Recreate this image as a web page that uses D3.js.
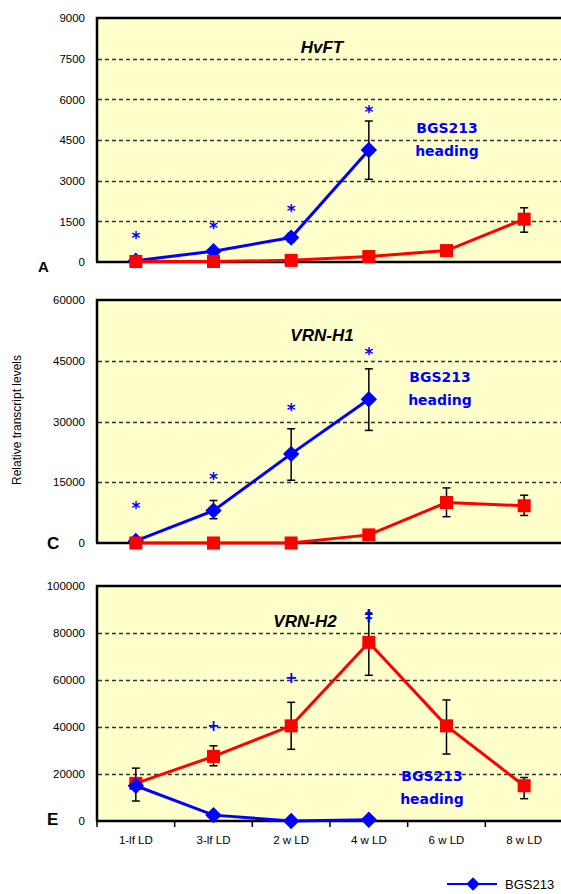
<!DOCTYPE html>
<html>
<head>
  <meta charset="utf-8">
  <title>Transcript levels</title>
  <script src="https://cdnjs.cloudflare.com/ajax/libs/d3/7.8.5/d3.min.js"></script>
  <style>
    body { margin: 0; background: #fff; overflow: hidden; }
    text { font-family: "Liberation Sans", Arial, sans-serif; }
  </style>
</head>
<body>
<script>
var w = 561, h = 894;

var categories = ["1-lf LD", "3-lf LD", "2 w LD", "4 w LD", "6 w LD", "8 w LD"];

// HvFT (panel A)
var hvftTicks = [0, 1500, 3000, 4500, 6000, 7500, 9000];
var hvftBlue = [50, 400, 900, 4130];
var hvftBlueErr = [null, null, [750, 1050], [3050, 5200]];
var hvftRed = [20, 20, 60, 200, 420, 1580];
var hvftRedErr = [null, null, null, null, null, [1100, 2000]];
var hvftMarks = [1000, 1350, 2000, 5650];

// VRN-H1 (panel C)
var vrn1Ticks = [0, 15000, 30000, 45000, 60000];
var vrn1Blue = [500, 8000, 22000, 35500];
var vrn1BlueErr = [null, [6000, 10500], [15500, 28200], [27800, 43000]];
var vrn1Red = [0, 0, 0, 2000, 10000, 9200];
var vrn1RedErr = [null, null, null, null, [6500, 13600], [6800, 11800]];
var vrn1Marks = [9500, 16500, 33500, 47500];

// VRN-H2 (panel E)
var vrn2Ticks = [0, 20000, 40000, 60000, 80000, 100000];
var vrn2Blue = [15000, 2500, 0, 500];
var vrn2BlueErr = [null, null, null, null];
var vrn2Red = [16000, 27500, 40500, 76000, 40500, 15000];
var vrn2RedErr = [[8500, 22500], [23500, 32000], [30500, 50500], [62000, 88000], [28500, 51500], [9500, 18500]];
var vrn2Marks = [null, 40800, 61200, 87500];

var panels = [
  {gene: "HvFT", letter: "A", top: 18, bottom: 262, max: 9000, ticks: hvftTicks,
   blue: hvftBlue, blueErr: hvftBlueErr, red: hvftRed, redErr: hvftRedErr,
   marks: hvftMarks, mark: "*", titleX: 322, titleY: 53, headX: 447, headY: 133, letterX: 38, letterY: 272, letterSize: 15},
  {gene: "VRN-H1", letter: "C", top: 300, bottom: 543, max: 60000, ticks: vrn1Ticks,
   blue: vrn1Blue, blueErr: vrn1BlueErr, red: vrn1Red, redErr: vrn1RedErr,
   marks: vrn1Marks, mark: "*", titleX: 322, titleY: 341, headX: 440, headY: 382, letterX: 47, letterY: 549, letterSize: 17},
  {gene: "VRN-H2", letter: "E", top: 586, bottom: 821, max: 100000, ticks: vrn2Ticks,
   blue: vrn2Blue, blueErr: vrn2BlueErr, red: vrn2Red, redErr: vrn2RedErr,
   marks: vrn2Marks, mark: "+", titleX: 305, titleY: 627, headX: 432, headY: 781, letterX: 47, letterY: 825, letterSize: 17, xaxis: true}
];

var svg = d3.select("body").append("svg")
  .attr("width", w).attr("height", h);

var x = d3.scaleBand().domain(categories).range([97, 563]).padding(0);

panels.forEach(function (p) {
  var y = d3.scaleLinear().domain([0, p.max]).range([p.bottom, p.top]);
  var g = svg.append("g");

  g.append("rect")
    .attr("x", 97).attr("y", p.top)
    .attr("width", 466).attr("height", p.bottom - p.top)
    .attr("fill", "#ffffcc");

  // dashed grid
  g.selectAll(".grid").data(p.ticks.slice(1, -1)).enter().append("line")
    .attr("x1", 98).attr("x2", 563)
    .attr("y1", function (d) { return Math.round(y(d)) + 0.5; })
    .attr("y2", function (d) { return Math.round(y(d)) + 0.5; })
    .attr("stroke", "#333").attr("stroke-width", 1.6)
    .attr("stroke-dasharray", "4,3");

  // frame
  g.append("path")
    .attr("d", "M97," + p.bottom + "V" + p.top + "H563")
    .attr("fill", "none").attr("stroke", "#000").attr("stroke-width", 2.5);
  g.append("line")
    .attr("x1", 96).attr("x2", 563).attr("y1", p.bottom).attr("y2", p.bottom)
    .attr("stroke", "#000").attr("stroke-width", 2.5);

  var yAxis = d3.axisLeft(y).tickValues(p.ticks).tickSize(0).tickPadding(12)
    .tickFormat(d3.format("d"));
  var ya = g.append("g").attr("transform", "translate(97,0)").call(yAxis);
  ya.select(".domain").remove();
  ya.selectAll("text").attr("font-size", 11.5).attr("fill", "#000")
    .style("font-family", "'Liberation Sans', Arial, sans-serif");

  if (p.xaxis) {
    var xAxis = d3.axisBottom(x).tickSize(0).tickPadding(15);
    var xa = g.append("g").attr("transform", "translate(0," + p.bottom + ")").call(xAxis);
    xa.select(".domain").remove();
    xa.selectAll("text").attr("font-size", 11.5).attr("fill", "#000")
      .style("font-family", "'Liberation Sans', Arial, sans-serif");
    g.selectAll(".xt").data(categories).enter().append("line")
      .attr("x1", function (d) { return x(d); }).attr("x2", function (d) { return x(d); })
      .attr("y1", p.bottom).attr("y2", p.bottom + 6)
      .attr("stroke", "#000").attr("stroke-width", 1.5);
  }

  var cx = function (d, i) { return x(categories[i]) + x.bandwidth() / 2; };
  var line = d3.line().x(cx).y(function (d) { return y(d); });

  // error bars
  function errors(list) {
    var data = list.map(function (e, i) { return {e: e, i: i}; }).filter(function (d) { return d.e; });
    var eg = g.append("g").attr("stroke", "#000").attr("stroke-width", 1.5);
    data.forEach(function (d) {
      var xx = cx(null, d.i);
      eg.append("line").attr("x1", xx).attr("x2", xx).attr("y1", y(d.e[0])).attr("y2", y(d.e[1]));
      eg.append("line").attr("x1", xx - 4).attr("x2", xx + 4).attr("y1", y(d.e[0])).attr("y2", y(d.e[0]));
      eg.append("line").attr("x1", xx - 4).attr("x2", xx + 4).attr("y1", y(d.e[1])).attr("y2", y(d.e[1]));
    });
  }
  errors(p.redErr);
  errors(p.blueErr);

  function series(vals, color, diamond) {
    g.append("path").datum(vals).attr("d", line)
      .attr("fill", "none").attr("stroke", color).attr("stroke-width", 3);
    g.selectAll(null).data(vals).enter().append("path")
      .attr("d", d3.symbol().type(d3.symbolSquare).size(diamond ? 135 : 170))
      .attr("transform", function (d, i) {
        return "translate(" + cx(d, i) + "," + y(d) + ")" + (diamond ? " rotate(45)" : "");
      })
      .attr("fill", color);
  }
  if (p.gene === "VRN-H2") {
    series(p.red, "#ff0000", false);
    series(p.blue, "#0000ff", true);
  } else {
    series(p.blue, "#0000ff", true);
    series(p.red, "#ff0000", false);
  }

  // significance marks
  g.selectAll(null).data(p.marks).enter().append("text")
    .filter(function (d) { return d !== null; })
    .attr("x", function (d) { return cx(d, p.marks.indexOf(d)); })
    .attr("y", function (d) { return y(d) + (p.mark === "*" ? 9 : 6); })
    .attr("text-anchor", "middle").attr("fill", "#0000ff")
    .attr("font-weight", "bold")
    .attr("font-size", p.mark === "*" ? 17 : 15)
    .style("font-family", "'DejaVu Sans', sans-serif")
    .text(function (d) { return (p.gene === "VRN-H2" && p.marks.indexOf(d) === 3) ? "\u2021" : p.mark; });

  g.append("text").attr("x", p.titleX).attr("y", p.titleY)
    .attr("text-anchor", "middle").attr("font-size", 17)
    .attr("font-weight", "bold").attr("font-style", "italic")
    .text(p.gene);

  var hd = g.append("text").attr("fill", "#0000ff").attr("font-weight", "bold")
    .attr("font-size", 14).attr("text-anchor", "middle")
    .style("font-family", "'DejaVu Sans', Verdana, sans-serif");
  hd.append("tspan").attr("x", p.headX).attr("y", p.headY).text("BGS213");
  hd.append("tspan").attr("x", p.headX).attr("y", p.headY + 23).text("heading");

  g.append("text").attr("x", p.letterX).attr("y", p.letterY)
    .attr("font-size", p.letterSize).attr("font-weight", "bold")
    .text(p.letter);
});

svg.append("text")
  .attr("transform", "translate(21,420) rotate(-90)")
  .attr("text-anchor", "middle").attr("font-size", 12)
  .text("Relative transcript levels");

// legend (cut at right edge)
var lg = svg.append("g").attr("transform", "translate(447,884)");
lg.append("line").attr("x1", 0).attr("x2", 50).attr("y1", 0).attr("y2", 0)
  .attr("stroke", "#0000ff").attr("stroke-width", 2);
lg.append("path").attr("d", d3.symbol().type(d3.symbolSquare).size(90))
  .attr("transform", "translate(26,0) rotate(45)").attr("fill", "#0000ff");
lg.append("text").attr("x", 58).attr("y", 5).attr("font-size", 13).text("BGS213");
</script>
</body>
</html>
